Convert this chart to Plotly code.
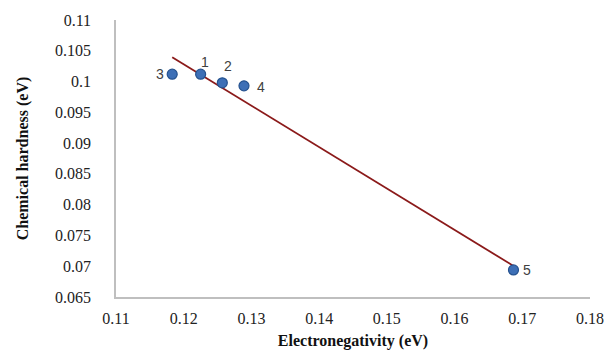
import numpy as np
import plotly.graph_objects as go

electronegativity = [0.1225, 0.1257, 0.1183, 0.1289, 0.1687]
hardness = [0.1012, 0.0998, 0.1012, 0.0993, 0.0694]
labels = ["1", "2", "3", "4", "5"]
label_shift = [(4, 12), (6, 17), (-12, 0), (17, -1), (14, 0)]
x_ticks = [0.11, 0.12, 0.13, 0.14, 0.15, 0.16, 0.17, 0.18]
y_ticks = [0.065, 0.07, 0.075, 0.08, 0.085, 0.09, 0.095, 0.1, 0.105, 0.11]

slope, intercept = np.polyfit(electronegativity, hardness, 1)
xfit = [min(electronegativity), max(electronegativity)]
yfit = [slope * v + intercept for v in xfit]

fig = go.Figure()
fig.add_trace(go.Scatter(x=xfit, y=yfit, mode="lines",
                         line=dict(color="#8B1A1A", width=1.8),
                         showlegend=False, hoverinfo="skip"))
fig.add_trace(go.Scatter(x=electronegativity, y=hardness, mode="markers",
                         marker=dict(size=10, color="#3D6FB6",
                                     line=dict(color="#25528F", width=1.2)),
                         showlegend=False))
for xv, yv, lab, (dx, dy) in zip(electronegativity, hardness, labels, label_shift):
    fig.add_annotation(x=xv, y=yv, text=lab, showarrow=False,
                       xshift=dx, yshift=dy,
                       font=dict(family="Liberation Sans", size=14, color="#404040"))

serif = "Times New Roman, Liberation Serif, serif"
fig.update_layout(
    width=610, height=350,
    margin=dict(l=116, r=20, t=20, b=53),
    paper_bgcolor="white", plot_bgcolor="white",
    font=dict(family=serif, size=16, color="#222222"),
)
fig.update_xaxes(range=[0.11, 0.18], tickvals=x_ticks,
                 ticktext=[f"{v:g}" for v in x_ticks],
                 tickfont=dict(family=serif, size=16, color="#222222"),
                 showgrid=False, zeroline=False, showline=True,
                 linecolor="#BFBFBF", linewidth=1.5, ticks="",
                 ticklabelstandoff=6, automargin=False,
                 title=dict(text="<b>Electronegativity (eV)</b>",
                            font=dict(family=serif, size=16, color="#111111"), standoff=19))
fig.update_yaxes(range=[0.065, 0.11], tickvals=y_ticks,
                 ticktext=[f"{v:g}" for v in y_ticks],
                 tickfont=dict(family=serif, size=16, color="#222222"),
                 showgrid=False, zeroline=False, showline=True,
                 linecolor="#BFBFBF", linewidth=1.5, ticks="",
                 ticklabelstandoff=20, automargin=False,
                 title=dict(text="<b>Chemical hardness (eV)</b>",
                            font=dict(family=serif, size=16, color="#111111"), standoff=22))

fig.write_html("out.html")
